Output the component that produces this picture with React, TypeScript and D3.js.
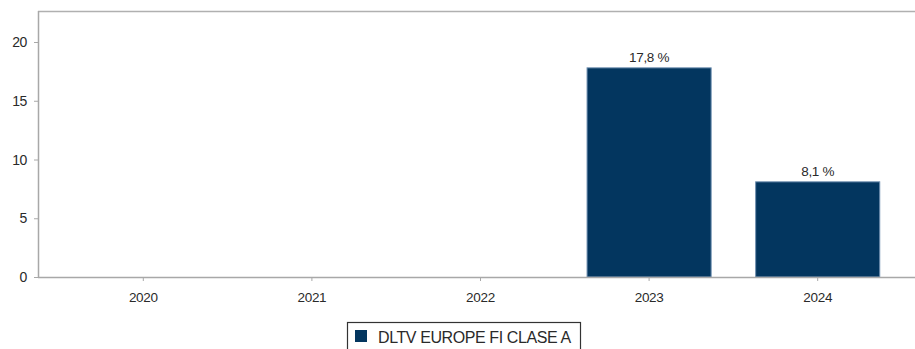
import React from "react";
import * as d3 from "d3";

const categories = ["2020", "2021", "2022", "2023", "2024"];
const values: (number | null)[] = [null, null, null, 17.8, 8.1];
const yTicks = [0, 5, 10, 15, 20];
const seriesName = "DLTV EUROPE FI CLASE A";

const W = 915;
const H = 349;
const left = 38;
const top = 11;
const bottom = 277;

export default function App() {
  const x = d3.scaleBand<string>().domain(categories).range([59, 902]).paddingInner(0.264).paddingOuter(0.132);
  const y = d3.scaleLinear().domain([0, 20]).range([bottom, 42]);
  const font = "'Liberation Sans', Arial, sans-serif";
  return (
    <svg width={W} height={H} style={{ position: "absolute", left: 0, top: 0, background: "#fff" }} fontFamily={font}>
      <line x1={left} x2={W} y1={top + 0.5} y2={top + 0.5} stroke="#b0b0b0" strokeWidth={1.5} />
      {values.map((v, i) =>
        v == null ? null : (
          <g key={categories[i]}>
            <rect
              x={x(categories[i])!}
              y={y(v)}
              width={x.bandwidth()}
              height={bottom - y(v)}
              fill="#03365f"
              stroke="#6f8fb0"
              strokeWidth={1}
            />
            <text x={x(categories[i])! + x.bandwidth() / 2} y={y(v) - 5.5} textAnchor="middle" fontSize={13.5} fill="#2a2a2a" letterSpacing={-0.3}>
              {d3.format(".1f")(v).replace(".", ",") + " %"}
            </text>
          </g>
        )
      )}
      <line x1={left + 0.5} x2={left + 0.5} y1={top} y2={bottom} stroke="#a8a8a8" strokeWidth={1.5} />
      <line x1={left} x2={W} y1={bottom + 0.5} y2={bottom + 0.5} stroke="#a8a8a8" strokeWidth={1.5} />
      {yTicks.map((t) => (
        <g key={t}>
          <line x1={left - 4} x2={left} y1={y(t) + 0.5} y2={y(t) + 0.5} stroke="#a8a8a8" />
          <text x={27} y={y(t) + 5} textAnchor="end" fontSize={14} fill="#2a2a2a" letterSpacing={-0.4}>
            {t}
          </text>
        </g>
      ))}
      {categories.map((c) => (
        <g key={c}>
          <line x1={x(c)! + x.bandwidth() / 2} x2={x(c)! + x.bandwidth() / 2} y1={bottom} y2={bottom + 4} stroke="#a8a8a8" />
          <text x={x(c)! + x.bandwidth() / 2} y={302} textAnchor="middle" fontSize={13.5} fill="#2a2a2a" letterSpacing={-0.3}>
            {c}
          </text>
        </g>
      ))}
      <rect x={347.5} y={322.5} width={233} height={40} fill="#fff" stroke="#333" strokeWidth={1.2} />
      <rect x={355} y={330} width={12} height={12} fill="#03365f" />
      <text x={378} y={343} fontSize={16} fill="#2a2a2a" letterSpacing={-0.4}>
        {seriesName}
      </text>
    </svg>
  );
}
